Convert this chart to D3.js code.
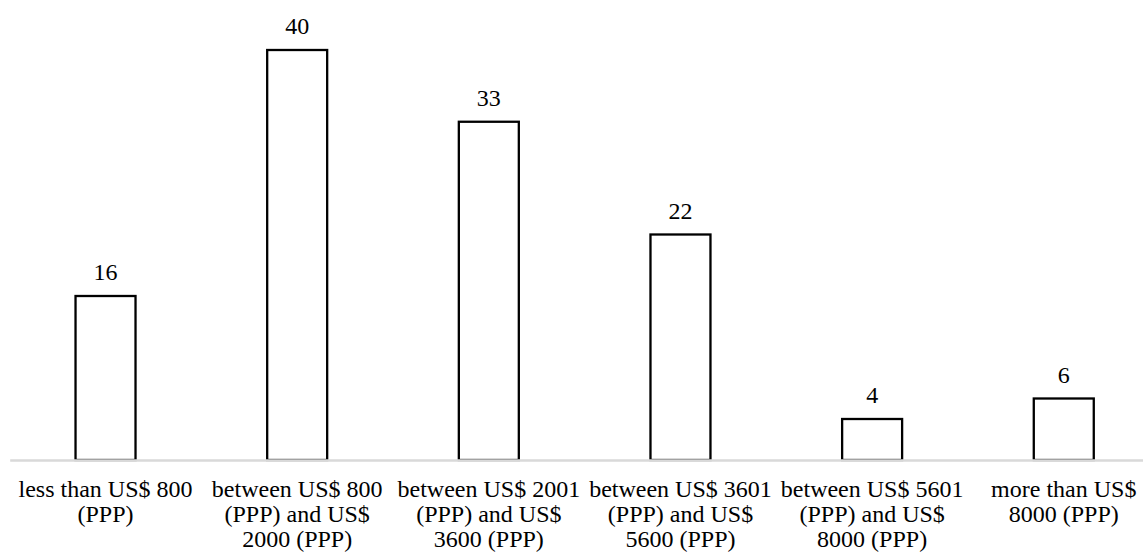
<!DOCTYPE html>
<html>
<head>
<meta charset="utf-8">
<script src="https://cdn.jsdelivr.net/npm/d3@7"></script>
<style>
  html, body { margin: 0; padding: 0; background: #fff; }
  svg { display: block; }
  text { font-family: "Liberation Serif", "Times New Roman", serif; fill: #000; }
</style>
</head>
<body>
<svg id="chart" width="1143" height="554"></svg>
<script>
// Income brackets (per capita, PPP) and the count in each
const categories = [
  "less than US$ 800 (PPP)",
  "between US$ 800 (PPP) and US$ 2000 (PPP)",
  "between US$ 2001 (PPP) and US$ 3600 (PPP)",
  "between US$ 3601 (PPP) and US$ 5600 (PPP)",
  "between US$ 5601 (PPP) and US$ 8000 (PPP)",
  "more than US$ 8000 (PPP)"
];
const values = [16, 40, 33, 22, 4, 6];

const svg = d3.select("#chart");

const x = d3.scaleBand()
  .domain(categories)
  .range([9.7, 1159.6])
  .paddingInner(0.687)
  .paddingOuter(0.3435);

const y = d3.scaleLinear()
  .domain([0, 40])
  .range([460, 50]);

// Bars: white fill, black outline
svg.append("g")
  .selectAll("rect")
  .data(values)
  .join("rect")
  .attr("x", (d, i) => x(categories[i]))
  .attr("y", d => y(d))
  .attr("width", x.bandwidth())
  .attr("height", d => y(0) - y(d))
  .attr("fill", "#fff")
  .attr("stroke", "#000")
  .attr("stroke-width", 2.3);

// Value labels above each bar
svg.append("g")
  .selectAll("text")
  .data(values)
  .join("text")
  .attr("x", (d, i) => x(categories[i]) + x.bandwidth() / 2)
  .attr("y", d => y(d) - 16)
  .attr("text-anchor", "middle")
  .style("font-size", "24px")
  .text(d => d);

// Category axis along the baseline
const axis = svg.append("g")
  .attr("transform", `translate(0,${y(0)})`)
  .call(d3.axisBottom(x).tickSize(0).tickPadding(0));

axis.select(".domain")
  .attr("stroke", "#d9d9d9")
  .attr("stroke-width", 2.5);

// Wrap each tick label into centred lines that fit within one band step
const maxWidth = x.step() - 2;
axis.selectAll(".tick text")
  .style("font-family", '"Liberation Serif", "Times New Roman", serif')
  .style("font-size", "24px")
  .attr("fill", "#000")
  .each(function(label) {
    const t = d3.select(this);
    const words = label.split(" ");
    t.text(null);
    const lines = [];
    let current = [];
    const probe = t.append("tspan");
    words.forEach(w => {
      const trial = current.concat(w).join(" ");
      probe.text(trial);
      if (probe.node().getComputedTextLength() > maxWidth && current.length) {
        lines.push(current.join(" "));
        current = [w];
      } else {
        current.push(w);
      }
    });
    if (current.length) lines.push(current.join(" "));
    probe.remove();
    t.attr("y", null).attr("dy", null);
    lines.forEach((ln, k) => {
      t.append("tspan")
        .attr("x", 0)
        .attr("y", 37 + k * 24.8)
        .text(ln);
    });
  });
</script>
</body>
</html>
